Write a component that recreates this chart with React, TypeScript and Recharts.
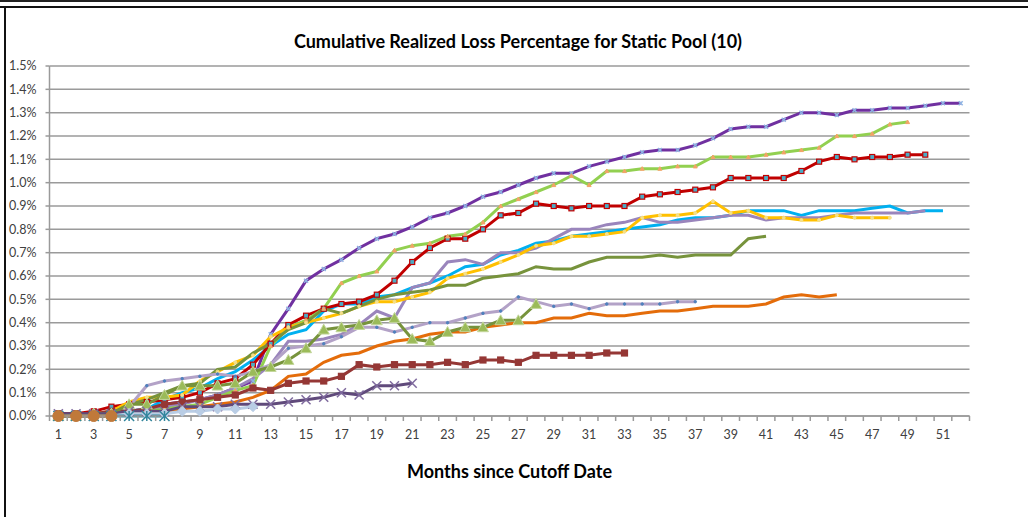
import React from 'react';
import { LineChart, Line, XAxis, YAxis, CartesianGrid } from 'recharts';

// months since cutoff date (category ticks)
const months = [
  1, 2, 3, 4, 5, 6, 7, 8, 9, 10, 11, 12, 13, 14, 15, 16, 17, 18, 19, 20, 21, 22, 23, 24, 25, 26,
  27, 28, 29, 30, 31, 32, 33, 34, 35, 36, 37, 38, 39, 40, 41, 42, 43, 44, 45, 46, 47, 48, 49, 50, 51, 52,
];
const yTicks = [0, 0.1, 0.2, 0.3, 0.4, 0.5, 0.6, 0.7, 0.8, 0.9, 1.0, 1.1, 1.2, 1.3, 1.4, 1.5];

// cumulative realized loss, % of pool, one array per static pool
const pool01 = [
  0.01, 0.01, 0.01, 0.02, 0.02, 0.03, 0.05, 0.06, 0.07, 0.09,
  0.12, 0.15, 0.35, 0.46, 0.58, 0.63, 0.67, 0.72, 0.76, 0.78,
  0.81, 0.85, 0.87, 0.90, 0.94, 0.96, 0.99, 1.02, 1.04, 1.04,
  1.07, 1.09, 1.11, 1.13, 1.14, 1.14, 1.16, 1.19, 1.23, 1.24,
  1.24, 1.27, 1.30, 1.30, 1.29, 1.31, 1.31, 1.32, 1.32, 1.33, 1.34, 1.34,
];
const pool02 = [
  0.00, 0.00, 0.01, 0.01, 0.02, 0.03, 0.07, 0.10, 0.12, 0.16,
  0.19, 0.24, 0.30, 0.35, 0.37, 0.45, 0.48, 0.48, 0.51, 0.52,
  0.55, 0.57, 0.60, 0.64, 0.65, 0.69, 0.71, 0.74, 0.75, 0.77,
  0.78, 0.79, 0.80, 0.81, 0.82, 0.84, 0.85, 0.85, 0.86, 0.88,
  0.88, 0.88, 0.86, 0.88, 0.88, 0.88, 0.89, 0.90, 0.87, 0.88, 0.88,
];
const pool03 = [
  0.00, 0.00, 0.01, 0.01, 0.02, 0.03, 0.04, 0.05, 0.07, 0.09,
  0.12, 0.16, 0.22, 0.32, 0.32, 0.33, 0.35, 0.39, 0.45, 0.42,
  0.55, 0.57, 0.66, 0.67, 0.65, 0.70, 0.70, 0.72, 0.76, 0.80,
  0.80, 0.82, 0.83, 0.85, 0.83, 0.83, 0.84, 0.85, 0.86, 0.86,
  0.84, 0.85, 0.85, 0.85, 0.86, 0.87, 0.87, 0.87, 0.87, 0.88,
];
const pool04 = [
  0.01, 0.01, 0.02, 0.04, 0.05, 0.06, 0.07, 0.08, 0.10, 0.14,
  0.16, 0.22, 0.31, 0.39, 0.43, 0.46, 0.48, 0.49, 0.52, 0.58,
  0.66, 0.72, 0.76, 0.76, 0.80, 0.86, 0.87, 0.91, 0.90, 0.89,
  0.90, 0.90, 0.90, 0.94, 0.95, 0.96, 0.97, 0.98, 1.02, 1.02,
  1.02, 1.02, 1.05, 1.09, 1.11, 1.10, 1.11, 1.11, 1.12, 1.12,
];
const pool05 = [
  0.00, 0.00, 0.01, 0.01, 0.01, 0.02, 0.03, 0.04, 0.05, 0.08,
  0.11, 0.13, 0.30, 0.38, 0.41, 0.46, 0.57, 0.60, 0.62, 0.71,
  0.73, 0.74, 0.77, 0.78, 0.83, 0.90, 0.93, 0.96, 0.99, 1.03,
  0.99, 1.05, 1.05, 1.06, 1.06, 1.07, 1.07, 1.11, 1.11, 1.11,
  1.12, 1.13, 1.14, 1.15, 1.20, 1.20, 1.21, 1.25, 1.26,
];
const pool06 = [
  0.00, 0.00, 0.01, 0.02, 0.06, 0.08, 0.08, 0.09, 0.15, 0.19,
  0.23, 0.26, 0.34, 0.38, 0.40, 0.42, 0.44, 0.47, 0.49, 0.49,
  0.51, 0.53, 0.59, 0.61, 0.63, 0.66, 0.69, 0.73, 0.74, 0.77,
  0.77, 0.78, 0.79, 0.85, 0.86, 0.86, 0.87, 0.92, 0.87, 0.88,
  0.85, 0.85, 0.84, 0.84, 0.86, 0.85, 0.85, 0.85,
];
const pool07 = [
  0.00, 0.00, 0.00, 0.00, 0.01, 0.01, 0.02, 0.03, 0.04, 0.05,
  0.06, 0.08, 0.11, 0.17, 0.18, 0.23, 0.26, 0.27, 0.30, 0.32,
  0.33, 0.35, 0.36, 0.36, 0.38, 0.39, 0.40, 0.40, 0.42, 0.42,
  0.44, 0.43, 0.43, 0.44, 0.45, 0.45, 0.46, 0.47, 0.47, 0.47,
  0.48, 0.51, 0.52, 0.51, 0.52,
];
const pool08 = [
  0.00, 0.00, 0.01, 0.01, 0.05, 0.07, 0.10, 0.13, 0.14, 0.20,
  0.21, 0.27, 0.31, 0.37, 0.40, 0.46, 0.44, 0.47, 0.50, 0.52,
  0.53, 0.54, 0.56, 0.56, 0.59, 0.60, 0.61, 0.64, 0.63, 0.63,
  0.66, 0.68, 0.68, 0.68, 0.69, 0.68, 0.69, 0.69, 0.69, 0.76, 0.77,
];
const pool09 = [
  0.00, 0.00, 0.01, 0.01, 0.04, 0.13, 0.15, 0.16, 0.17, 0.18,
  0.17, 0.19, 0.22, 0.29, 0.30, 0.31, 0.34, 0.38, 0.38, 0.36,
  0.38, 0.40, 0.40, 0.42, 0.44, 0.45, 0.51, 0.49, 0.47, 0.48,
  0.46, 0.48, 0.48, 0.48, 0.48, 0.49, 0.49,
];
const pool10 = [
  0.01, 0.01, 0.01, 0.02, 0.02, 0.03, 0.05, 0.06, 0.07, 0.08,
  0.09, 0.12, 0.11, 0.14, 0.15, 0.15, 0.17, 0.22, 0.21, 0.22,
  0.22, 0.22, 0.23, 0.22, 0.24, 0.24, 0.23, 0.26, 0.26, 0.26,
  0.26, 0.27, 0.27,
];
const pool11 = [
  0.00, 0.00, 0.01, 0.01, 0.05, 0.05, 0.09, 0.13, 0.13, 0.13,
  0.14, 0.19, 0.21, 0.24, 0.29, 0.37, 0.38, 0.39, 0.41, 0.42,
  0.33, 0.32, 0.36, 0.38, 0.38, 0.41, 0.41, 0.48,
];
const pool12 = [
  0.01, 0.01, 0.01, 0.01, 0.02, 0.02, 0.02, 0.04, 0.04, 0.04,
  0.05, 0.05, 0.05, 0.06, 0.07, 0.08, 0.10, 0.09, 0.13, 0.13, 0.14,
];
const pool13 = [0.00, 0.00, 0.00, 0.00, 0.01, 0.01, 0.01, 0.02, 0.02, 0.03, 0.03, 0.04];
const pool14 = [0.00, 0.00, 0.00, 0.00, 0.00, 0.00, 0.00];
const pool15 = [0.00, 0.00, 0.00, 0.00];

const CHART_W = 1028;
const CHART_H = 517;
const PLOT_LEFT = 49.5;
const PLOT_RIGHT = 969.5;
const PLOT_TOP = 66;
const PLOT_BOTTOM = 416;
const HALF_BAND = (PLOT_RIGHT - PLOT_LEFT) / months.length / 2;
const FONT = 'Lato, "Open Sans", sans-serif';
const AXIS_GRAY = '#9a9a9a';

type MarkerKind = 'none' | 'circle' | 'square' | 'triangle' | 'diamond' | 'x' | 'star';

interface SeriesDef {
  key: string;
  values: number[];
  color: string;
  width: number;
  marker: MarkerKind;
  size: number;
  fill: string;
  stroke: string;
}

const series: SeriesDef[] = [
  { key: 'p01', values: pool01, color: '#7030A0', width: 3, marker: 'x', size: 4, fill: 'none', stroke: '#8EB4E3' },
  { key: 'p02', values: pool02, color: '#00B0F0', width: 3, marker: 'none', size: 0, fill: '', stroke: '' },
  { key: 'p03', values: pool03, color: '#9A85BC', width: 3, marker: 'none', size: 0, fill: '', stroke: '' },
  { key: 'p04', values: pool04, color: '#C00000', width: 3, marker: 'square', size: 5, fill: '#4BACC6', stroke: '#C00000' },
  { key: 'p05', values: pool05, color: '#92D050', width: 3, marker: 'triangle', size: 4, fill: '#F2A468', stroke: '#F2A468' },
  { key: 'p06', values: pool06, color: '#FFC000', width: 3, marker: 'circle', size: 3, fill: '#F5E08A', stroke: '#F5E08A' },
  { key: 'p07', values: pool07, color: '#E46C0A', width: 3, marker: 'none', size: 0, fill: '', stroke: '' },
  { key: 'p08', values: pool08, color: '#77933C', width: 3, marker: 'none', size: 0, fill: '', stroke: '' },
  { key: 'p09', values: pool09, color: '#B3A2C7', width: 3, marker: 'circle', size: 2.5, fill: '#4F81BD', stroke: '#4F81BD' },
  { key: 'p10', values: pool10, color: '#953735', width: 3, marker: 'square', size: 6, fill: '#953735', stroke: '#953735' },
  { key: 'p11', values: pool11, color: '#77933C', width: 3, marker: 'triangle', size: 11, fill: '#9BBB59', stroke: '#C3D69B' },
  { key: 'p12', values: pool12, color: '#604A7B', width: 3, marker: 'x', size: 9, fill: 'none', stroke: '#7F6A9E' },
  { key: 'p13', values: pool13, color: '#B9CDE5', width: 3, marker: 'diamond', size: 10, fill: '#B9CDE5', stroke: '#B9CDE5' },
  { key: 'p14', values: pool14, color: '#31859C', width: 3, marker: 'star', size: 10, fill: 'none', stroke: '#31859C' },
  { key: 'p15', values: pool15, color: '#C0793A', width: 3, marker: 'circle', size: 11, fill: '#C0793A', stroke: '#C0793A' },
];

const data = months.map((m, i) => {
  const row: Record<string, number | null> = { month: m };
  series.forEach((s) => {
    row[s.key] = i < s.values.length ? s.values[i] : null;
  });
  return row;
});

const makeDot = (s: SeriesDef) => (props: any) => {
  const { cx, cy, index } = props;
  const k = `${s.key}-${index}`;
  if (cx == null || cy == null || Number.isNaN(cy) || props.value == null) return <g key={k} />;
  const r = s.size / 2;
  switch (s.marker) {
    case 'circle':
      return <circle key={k} cx={cx} cy={cy} r={r} fill={s.fill} stroke={s.stroke} />;
    case 'square':
      return <rect key={k} x={cx - r} y={cy - r} width={s.size} height={s.size} fill={s.fill} stroke={s.stroke} strokeWidth={1.2} />;
    case 'triangle':
      return (
        <polygon
          key={k}
          points={`${cx},${cy - r} ${cx + r},${cy + r * 0.8} ${cx - r},${cy + r * 0.8}`}
          fill={s.fill}
          stroke={s.stroke}
          strokeWidth={1}
        />
      );
    case 'diamond':
      return <polygon key={k} points={`${cx},${cy - r} ${cx + r},${cy} ${cx},${cy + r} ${cx - r},${cy}`} fill={s.fill} stroke={s.stroke} />;
    case 'x':
      return (
        <g key={k} stroke={s.stroke} strokeWidth={1.5}>
          <line x1={cx - r} y1={cy - r} x2={cx + r} y2={cy + r} />
          <line x1={cx - r} y1={cy + r} x2={cx + r} y2={cy - r} />
        </g>
      );
    case 'star':
      return (
        <g key={k} stroke={s.stroke} strokeWidth={1.5}>
          <line x1={cx - r} y1={cy - r} x2={cx + r} y2={cy + r} />
          <line x1={cx - r} y1={cy + r} x2={cx + r} y2={cy - r} />
          <line x1={cx} y1={cy - r} x2={cx} y2={cy + r} />
        </g>
      );
    default:
      return <g key={k} />;
  }
};

const MonthTick = (props: any) => {
  const { x, payload, index } = props;
  const m = payload.value as number;
  return (
    <g>
      <line x1={x - HALF_BAND} x2={x - HALF_BAND} y1={PLOT_BOTTOM} y2={PLOT_BOTTOM + 5} stroke={AXIS_GRAY} strokeWidth={1.5} />
      {index === months.length - 1 && (
        <line x1={x + HALF_BAND} x2={x + HALF_BAND} y1={PLOT_BOTTOM} y2={PLOT_BOTTOM + 5} stroke={AXIS_GRAY} strokeWidth={1.5} />
      )}
      {m % 2 === 1 && (
        <text x={x} y={PLOT_BOTTOM + 23} textAnchor="middle" fontSize={12.5} fill="#404040" fontFamily={FONT}>
          {m}
        </text>
      )}
    </g>
  );
};

export default function App() {
  return (
    <div style={{ position: 'absolute', left: 0, top: 0, width: CHART_W, height: CHART_H, background: '#fff', overflow: 'hidden' }}>
      {/* frame lines */}
      <div style={{ position: 'absolute', left: 0, top: 0, width: CHART_W, height: 2, background: '#222' }} />
      <div style={{ position: 'absolute', left: 0, top: 6, width: CHART_W, height: 2, background: '#111' }} />
      <div style={{ position: 'absolute', left: 4, top: 7, width: 2, height: CHART_H - 7, background: '#111' }} />
      <div
        style={{
          position: 'absolute', left: 0, width: CHART_W, top: 30, textAlign: 'center',
          fontFamily: FONT, fontWeight: 700, fontSize: 18, lineHeight: '22px', color: '#000', paddingLeft: 4,
        }}
      >
        Cumulative Realized Loss Percentage for Static Pool (10)
      </div>
      <div
        style={{
          position: 'absolute', left: PLOT_LEFT, width: PLOT_RIGHT - PLOT_LEFT, top: 460, textAlign: 'center',
          fontFamily: FONT, fontWeight: 700, fontSize: 18, lineHeight: '22px', color: '#000',
        }}
      >
        Months since Cutoff Date
      </div>
      <div style={{ position: 'absolute', left: 0, top: 0 }}>
        <LineChart
          width={CHART_W}
          height={CHART_H}
          data={data}
          margin={{ top: PLOT_TOP, right: CHART_W - PLOT_RIGHT, bottom: 0, left: 0 }}
        >
          <CartesianGrid vertical={false} stroke={AXIS_GRAY} strokeWidth={1.5} />
          <XAxis
            dataKey="month"
            type="number"
            domain={[0.5, months.length + 0.5]}
            ticks={months}
            interval={0}
            tickLine={false}
            tick={<MonthTick />}
            axisLine={{ stroke: AXIS_GRAY, strokeWidth: 1.5 }}
            height={CHART_H - PLOT_BOTTOM}
          />
          <YAxis
            type="number"
            domain={[0, 1.5]}
            ticks={yTicks}
            interval={0}
            width={PLOT_LEFT}
            tickSize={4}
            tickMargin={9}
            tickFormatter={(v: number) => `${v.toFixed(1)}%`}
            tick={{ fontSize: 12.5, fill: '#404040', fontFamily: FONT }}
            tickLine={{ stroke: AXIS_GRAY, strokeWidth: 1.5 }}
            axisLine={{ stroke: AXIS_GRAY, strokeWidth: 1.5 }}
          />
          {series.map((s) => (
            <Line
              key={s.key}
              dataKey={s.key}
              type="linear"
              stroke={s.color}
              strokeWidth={s.width}
              dot={s.marker === 'none' ? false : makeDot(s)}
              activeDot={false}
              connectNulls={false}
              isAnimationActive={false}
            />
          ))}
        </LineChart>
      </div>
    </div>
  );
}
